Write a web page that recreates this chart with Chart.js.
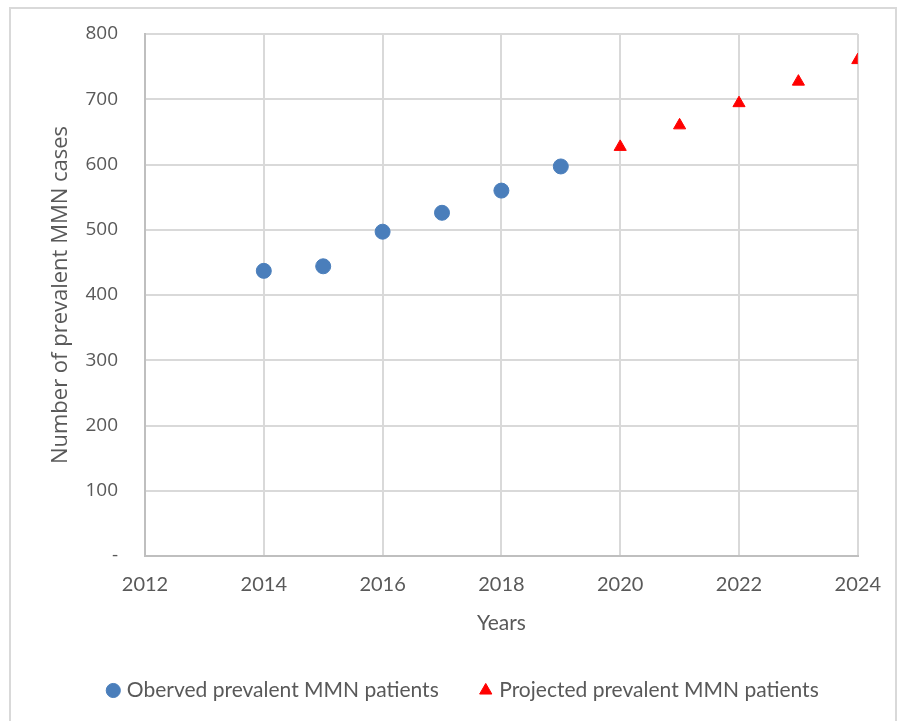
<!DOCTYPE html>
<html>
<head>
<meta charset="utf-8">
<script src="https://cdn.jsdelivr.net/npm/chart.js@4"></script>
<style>
  body { margin: 0; background: #fff; }
  #frame { position: absolute; left: 9px; top: 7px; width: 884px; height: 720px;
           border: 2px solid #d9d9d9; border-bottom: none; }
  #wrap { position: absolute; left: 0; top: 0; width: 898px; height: 721px; }
</style>
</head>
<body>
<div id="frame"></div>
<div id="wrap"><canvas id="prevChart"></canvas></div>
<script>
const observedYears = [2014, 2015, 2016, 2017, 2018, 2019];
const observedCases = [437, 444, 497, 526, 560, 597];
const projectedYears = [2020, 2021, 2022, 2023, 2024];
const projectedCases = [627, 660, 694, 727, 760];
const yTicks = [0, 100, 200, 300, 400, 500, 600, 700, 800];

const toPoints = (xs, ys) => xs.map((x, i) => ({ x: x, y: ys[i] }));

// nudge the legend a bit to the right, like in the original
const legendShift = {
  id: 'legendShift',
  afterLayout(chart) {
    chart.legend.left += 10;
    chart.legend.right += 10;
  }
};

const ctx = document.getElementById('prevChart');

new Chart(ctx, {
  type: 'scatter',
  data: {
    datasets: [
      {
        label: 'Oberved prevalent MMN patients',
        data: toPoints(observedYears, observedCases),
        backgroundColor: '#4a7ebb',
        borderColor: '#4a7ebb',
        pointStyle: 'circle',
        pointRadius: 7.5,
        pointHoverRadius: 7.5,
      },
      {
        label: 'Projected prevalent MMN patients',
        data: toPoints(projectedYears, projectedCases),
        backgroundColor: '#ff0000',
        borderColor: '#ff0000',
        pointStyle: 'triangle',
        pointRadius: 7,
        pointHoverRadius: 7,
      }
    ]
  },
  options: {
    responsive: true,
    maintainAspectRatio: false,
    animation: false,
    layout: { padding: { left: 48, right: 37, top: 34, bottom: 10 } },
    scales: {
      x: {
        type: 'linear',
        min: 2012,
        max: 2024,
        ticks: {
          stepSize: 2,
          padding: 17,
          color: '#595959',
          font: { family: 'Lato', size: 20 },
          callback: v => String(v)
        },
        grid: { color: '#d9d9d9', lineWidth: 2, drawTicks: false },
        border: { color: '#bfbfbf', width: 2 },
        title: {
          display: true,
          text: 'Years',
          color: '#595959',
          font: { family: 'Lato', size: 21 },
          padding: { top: 8, bottom: 0 }
        },
        afterFit: s => { s.height = 80; }
      },
      y: {
        min: 0,
        max: 800,
        afterBuildTicks: s => { s.ticks = yTicks.map(v => ({ value: v })); },
        ticks: {
          padding: 7,
          color: '#595959',
          font: { family: 'Open Sans', size: 19 },
          callback: v => (v === 0 ? '-' : String(v))
        },
        grid: { color: '#d9d9d9', lineWidth: 2, drawTicks: true, tickLength: 20, tickColor: 'rgba(0,0,0,0)' },
        border: { color: '#bfbfbf', width: 2 },
        title: {
          display: true,
          text: 'Number of prevalent MMN cases',
          color: '#595959',
          font: { family: 'Open Sans', size: 22 },
          padding: 0
        },
        afterFit: s => { s.width = 97; }
      }
    },
    plugins: {
      legend: {
        display: true,
        position: 'bottom',
        labels: {
          usePointStyle: true,
          boxWidth: 6,
          boxHeight: 10,
          padding: 44,
          color: '#595959',
          font: { family: 'Lato', size: 21 }
        }
      },
      tooltip: { enabled: false }
    }
  },
  plugins: [legendShift]
});
</script>
</body>
</html>
